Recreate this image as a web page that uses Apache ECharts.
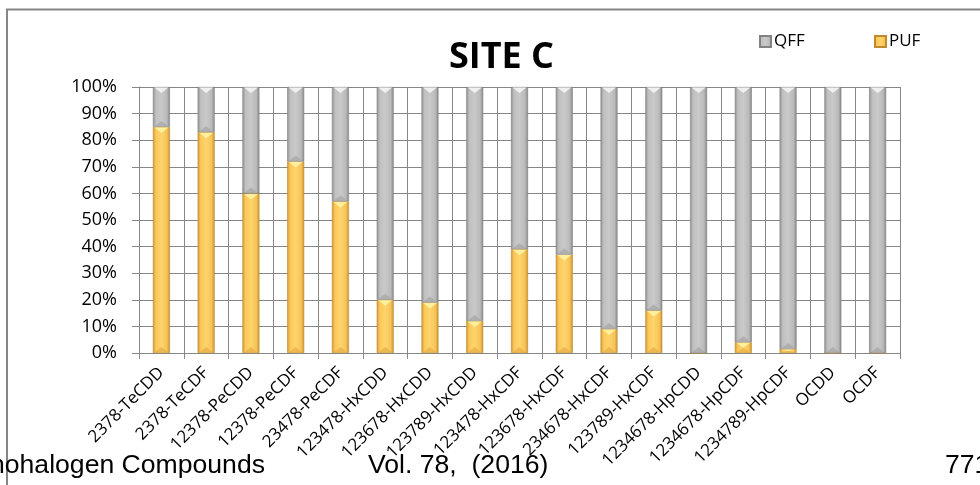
<!DOCTYPE html>
<html>
<head>
<meta charset="utf-8">
<script src="https://cdn.jsdelivr.net/npm/echarts@6/dist/echarts.min.js"></script>
<style>
  html, body { margin: 0; padding: 0; background: #fff; }
  #chart { width: 980px; height: 485px; }
</style>
</head>
<body>
<div id="chart"></div>
<script>
// Congeners measured at site C
const congeners = [
  '2378-TeCDD', '2378-TeCDF', '12378-PeCDD', '12378-PeCDF', '23478-PeCDF',
  '123478-HxCDD', '123678-HxCDD', '123789-HxCDD', '123478-HxCDF', '123678-HxCDF',
  '234678-HxCDF', '123789-HxCDF', '1234678-HpCDD', '1234678-HpCDF', '1234789-HpCDF',
  'OCDD', 'OCDF'
];
// Share found in the PUF (gas) phase, percent
const pufShare = [85, 83, 60, 72, 57, 20, 19, 12, 39, 37, 9, 16, 0, 4, 1.5, 0, 0];
// Share found on the QFF (particle) phase, percent
const qffShare = [15, 17, 40, 28, 43, 80, 81, 88, 61, 63, 91, 84, 100, 96, 98.5, 100, 100];
// Value axis tick labels
const percentTicks = ['0%', '10%', '20%', '30%', '40%', '50%', '60%', '70%', '80%', '90%', '100%'];

const BAR_W = 17;

const grayFill = new echarts.graphic.LinearGradient(0, 0, 1, 0, [
  { offset: 0, color: '#8f8f8f' },
  { offset: 0.18, color: '#c0c0c0' },
  { offset: 0.5, color: '#c9c9c9' },
  { offset: 0.82, color: '#bababa' },
  { offset: 1, color: '#878787' }
]);
const goldFill = new echarts.graphic.LinearGradient(0, 0, 1, 0, [
  { offset: 0, color: '#cf9836' },
  { offset: 0.18, color: '#fbc85a' },
  { offset: 0.5, color: '#ffd46c' },
  { offset: 0.82, color: '#f6c458' },
  { offset: 1, color: '#c79335' }
]);

// Bevel highlights for each stacked segment: [category, base, top, kind]
// kind 0 = PUF (gold), 1 = QFF (gray)
const bevelData = [];
congeners.forEach((_, i) => {
  if (pufShare[i] > 0) bevelData.push([i, 0, pufShare[i], 0]);
  if (qffShare[i] > 0) bevelData.push([i, pufShare[i], pufShare[i] + qffShare[i], 1]);
});

function renderBevel(params, api) {
  const i = api.value(0);
  const top = api.coord([i, api.value(2)]);
  const bottom = api.coord([i, api.value(1)]);
  const kind = api.value(3);
  const h = bottom[1] - top[1];
  if (h < 1.5) return null;
  const half = BAR_W / 2 - 1.5;
  const depth = Math.min(6, h / 2);
  const x = top[0];
  return {
    type: 'group',
    children: [
      {
        type: 'polygon',
        shape: { points: [[x - half, top[1] + 0.5], [x + half, top[1] + 0.5], [x, top[1] + depth]] },
        style: { fill: kind ? '#f2f2f2' : '#fff1a0', opacity: 0.95 }
      },
      {
        type: 'polygon',
        shape: { points: [[x - half, bottom[1] - 0.5], [x + half, bottom[1] - 0.5], [x, bottom[1] - depth]] },
        style: { fill: kind ? '#a9a9a9' : '#e9b24c', opacity: 0.8 }
      }
    ]
  };
}

const chart = echarts.init(document.getElementById('chart'), null, { renderer: 'canvas' });

const frameColor = '#868686';
const footerFont = '26.6px "Liberation Sans", Arial, sans-serif';
const labelFont = '"Open Sans", sans-serif';

chart.setOption({
  animation: false,
  backgroundColor: '#ffffff',
  title: {
    text: 'SITE C',
    left: 444,
    top: 35,
    textStyle: {
      fontFamily: labelFont,
      fontWeight: 'bold',
      fontSize: 36,
      color: '#000'
    }
  },
  legend: [
    {
      data: ['QFF'],
      left: 754,
      top: 28,
      icon: 'rect',
      itemWidth: 11,
      itemHeight: 11,
      textStyle: { fontFamily: labelFont, fontSize: 17, color: '#000', padding: [0, 0, 0, -2] }
    },
    {
      data: ['PUF'],
      left: 869,
      top: 28,
      icon: 'rect',
      itemWidth: 11,
      itemHeight: 11,
      textStyle: { fontFamily: labelFont, fontSize: 17, color: '#000', padding: [0, 0, 0, -2] }
    }
  ],
  grid: { left: 139, right: 80, top: 87, bottom: 132, containLabel: false },
  xAxis: {
    type: 'category',
    data: congeners,
    boundaryGap: true,
    axisLine: { show: true, lineStyle: { color: frameColor, width: 1 } },
    axisTick: { show: true, length: 6, lineStyle: { color: frameColor } },
    splitLine: { show: true, lineStyle: { color: frameColor, width: 1 } },
    axisLabel: {
      interval: 0,
      rotate: 45,
      margin: 17,
      fontFamily: labelFont,
      fontSize: 17,
      color: '#000'
    }
  },
  yAxis: {
    type: 'value',
    min: 0,
    max: 100,
    interval: 10,
    axisLine: { show: true, lineStyle: { color: frameColor, width: 1 } },
    axisTick: { show: true, length: 7, lineStyle: { color: frameColor } },
    splitLine: { show: true, lineStyle: { color: frameColor, width: 1 } },
    axisLabel: {
      margin: 22,
      fontFamily: labelFont,
      fontSize: 18,
      color: '#000',
      formatter: (v) => percentTicks[Math.round(v / 10)]
    }
  },
  series: [
    {
      name: 'PUF',
      type: 'bar',
      stack: 'share',
      barWidth: BAR_W,
      data: pufShare,
      itemStyle: { color: goldFill, borderColor: '#bf892d', borderWidth: 0.6 }
    },
    {
      name: 'QFF',
      type: 'bar',
      stack: 'share',
      barWidth: BAR_W,
      data: qffShare,
      itemStyle: { color: grayFill, borderColor: '#828282', borderWidth: 0.6 }
    },
    {
      name: 'bevel',
      type: 'custom',
      silent: true,
      z: 5,
      renderItem: renderBevel,
      encode: { x: 0, y: 2 },
      data: bevelData
    }
  ],
  graphic: [
    // outer frame of the chart area
    { type: 'line', shape: { x1: 6, y1: 9.5, x2: 980, y2: 9.5 }, style: { stroke: frameColor, lineWidth: 2 } },
    { type: 'line', shape: { x1: 7, y1: 9, x2: 7, y2: 485 }, style: { stroke: frameColor, lineWidth: 2 } },
    // page footer
    { type: 'text', x: 265, y: 479, style: { text: 'Organohalogen Compounds', font: footerFont, fill: '#000', textAlign: 'right', textVerticalAlign: 'bottom' } },
    { type: 'text', x: 368, y: 479, style: { text: 'Vol. 78,  (2016)', font: footerFont, fill: '#000', textAlign: 'left', textVerticalAlign: 'bottom' } },
    { type: 'text', x: 945, y: 479, style: { text: '771', font: footerFont, fill: '#000', textAlign: 'left', textVerticalAlign: 'bottom' } }
  ]
});
</script>
</body>
</html>
